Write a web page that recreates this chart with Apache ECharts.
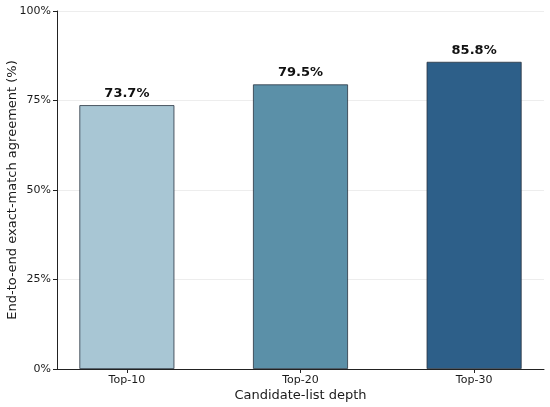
<!DOCTYPE html>
<html><head><meta charset="utf-8">
<script src="https://cdn.jsdelivr.net/npm/echarts@6/dist/echarts.min.js"></script>
<style>html,body{margin:0;padding:0;background:#fff}#c{width:550px;height:407px}</style>
</head><body><div id="c"></div>
<script>
const categories = ['Top-10', 'Top-20', 'Top-30'];
const values = [73.7, 79.5, 85.8];
const colors = ['#a8c6d4', '#5b90a8', '#2d5f89'];
const yTicks = [0, 25, 50, 75, 100];

const chart = echarts.init(document.getElementById('c'));
const font = 'DejaVu Sans';
chart.setOption({
  animation: false,
  grid: {left: 57, right: 6, top: 11, bottom: 38, containLabel: false, outerBoundsMode: 'none'},
  xAxis: {
    type: 'value', min: -0.4025, max: 2.4025,
    name: 'Candidate-list depth', nameLocation: 'middle', nameGap: 20, nameMoveOverlap: false,
    nameTextStyle: {fontFamily: font, fontSize: 13, color: '#1a1a1a'},
    axisLine: {show: true, onZero: false, lineStyle: {color: '#222', width: 1}},
    axisTick: {show: true, customValues: [0, 1, 2], length: 4, lineStyle: {color: '#222'}},
    axisLabel: {customValues: [0, 1, 2], formatter: v => categories[Math.round(v)], fontFamily: font, fontSize: 11, color: '#1a1a1a', margin: 6},
    splitLine: {show: false}
  },
  yAxis: {
    type: 'value', min: 0, max: 100, interval: 25,
    name: 'End-to-end exact-match agreement (%)', nameLocation: 'middle', nameGap: 38, nameMoveOverlap: false,
    nameTextStyle: {fontFamily: font, fontSize: 13, color: '#1a1a1a'},
    axisLine: {show: true, onZero: false, lineStyle: {color: '#222', width: 1}},
    axisTick: {show: true, length: 4, lineStyle: {color: '#222'}},
    axisLabel: {customValues: yTicks, formatter: v => v + '%', fontFamily: font, fontSize: 11, color: '#1a1a1a', margin: 6},
    splitLine: {show: true, lineStyle: {color: '#e8e8e8', width: 0.8}}
  },
  series: [{
    type: 'bar',
    barWidth: 95,
    data: values.map((v, i) => ({value: [i, v], itemStyle: {color: colors[i]}})),
    itemStyle: {borderColor: '#2a3440', borderWidth: 0.8},
    label: {show: true, position: 'top', distance: 5, formatter: p => p.value[1].toFixed(1) + '%',
      fontFamily: font, fontSize: 13, fontWeight: 'bold', color: '#111'}
  }]
});
</script></body></html>
